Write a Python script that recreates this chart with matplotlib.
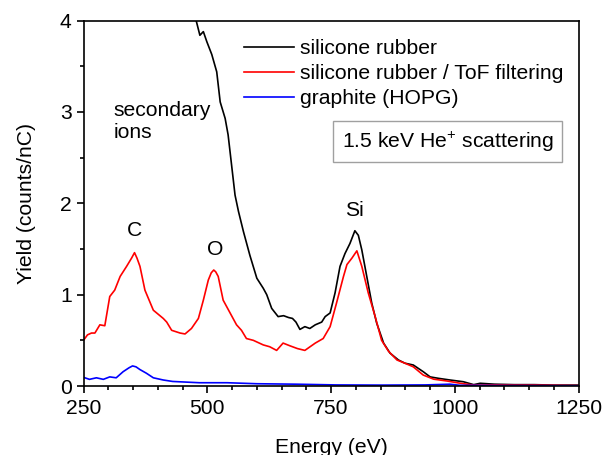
import matplotlib
matplotlib.use("Agg")
import matplotlib.pyplot as plt
from matplotlib.lines import Line2D

plt.rcParams['font.family'] = ['Liberation Sans', 'DejaVu Sans']

# silicone rubber (black)
e_black = [478, 485, 492, 499, 509, 519, 526, 536, 542, 549, 556, 563, 573, 586, 600,
           613, 620, 630, 643, 654, 664, 672, 679, 687, 697, 707, 718, 731, 738, 748,
           758, 768, 778, 788, 798, 805, 812, 822, 832, 842, 856, 869, 886, 899, 916,
           936, 950, 967, 990, 1017, 1038, 1051, 1080, 1120, 1160, 1200, 1250]
y_black = [3.99, 3.84, 3.88, 3.77, 3.63, 3.44, 3.11, 2.93, 2.75, 2.42, 2.09, 1.91, 1.69, 1.43, 1.18,
           1.07, 1.00, 0.85, 0.76, 0.77, 0.75, 0.74, 0.70, 0.62, 0.65, 0.63, 0.67, 0.70, 0.76, 0.80,
           1.02, 1.31, 1.45, 1.56, 1.70, 1.65, 1.49, 1.20, 0.91, 0.69, 0.47, 0.36, 0.285, 0.25, 0.23,
           0.157, 0.10, 0.084, 0.066, 0.047, 0.015, 0.03, 0.02, 0.015, 0.015, 0.01, 0.01]

# silicone rubber / ToF filtering (red)
e_red = [250, 258, 266, 273, 283, 293, 303, 313, 324, 337, 347, 353, 358, 364, 374, 391,
         411, 418, 428, 445, 455, 468, 482, 492, 502, 508, 513, 517, 522, 532, 546, 559,
         569, 579, 593, 613, 626, 640, 653, 667, 682, 697, 718, 734, 748, 761, 775, 782,
         792, 802, 812, 825, 839, 852, 866, 883, 899, 916, 936, 957, 984, 1011, 1038, 1080,
         1120, 1160, 1200, 1250]
y_red = [0.50, 0.56, 0.58, 0.58, 0.67, 0.66, 0.98, 1.05, 1.20, 1.31, 1.40, 1.46, 1.40, 1.31, 1.05, 0.83,
         0.74, 0.70, 0.61, 0.58, 0.57, 0.63, 0.74, 0.94, 1.16, 1.24, 1.27, 1.25, 1.20, 0.94, 0.80, 0.67,
         0.61, 0.52, 0.50, 0.45, 0.43, 0.39, 0.47, 0.44, 0.41, 0.39, 0.47, 0.52, 0.65, 0.91, 1.20, 1.33,
         1.40, 1.48, 1.31, 1.02, 0.76, 0.50, 0.38, 0.285, 0.25, 0.21, 0.12, 0.075, 0.055, 0.03, 0.01, 0.012,
         0.01, 0.01, 0.008, 0.005]

# graphite (HOPG) (blue)
e_blue = [250, 262, 276, 290, 303, 316, 330, 342, 349, 356, 364, 377, 391, 411, 430, 484,
          540, 600, 680, 760, 850, 940, 990, 1010, 1100, 1250]
y_blue = [0.095, 0.073, 0.09, 0.073, 0.10, 0.09, 0.157, 0.20, 0.22, 0.21, 0.18, 0.14, 0.09, 0.066,
          0.05, 0.036, 0.036, 0.025, 0.02, 0.012, 0.01, 0.012, 0.02, 0.008, 0.005, 0.003]

labels = ['silicone rubber', 'silicone rubber / ToF filtering', 'graphite (HOPG)']
colors = ['#000000', '#ff0000', '#0000ff']

fs = 15.2

fig = plt.figure(figsize=(6.03, 4.55), dpi=100)
ax = fig.add_axes([0.1385, 0.1516, 0.8212, 0.803])

ax.plot(e_black, y_black, color=colors[0], lw=1.2)
ax.plot(e_red, y_red, color=colors[1], lw=1.2)
ax.plot(e_blue, y_blue, color=colors[2], lw=1.2)

ax.set_xlim(250, 1250)
ax.set_ylim(0, 4)
ax.set_xticks([250, 500, 750, 1000, 1250])
ax.set_xticks(range(250, 1251, 50), minor=True)
ax.set_yticks([0, 1, 2, 3, 4])
ax.set_yticks([0.5, 1.5, 2.5, 3.5], minor=True)
ax.tick_params(axis='both', which='major', direction='out', length=5, width=1.2,
               labelsize=fs, top=False, right=False)
ax.tick_params(axis='x', which='major', pad=4)
ax.tick_params(axis='both', which='minor', direction='out', length=3, width=1.2,
               top=False, right=False)
for s in ax.spines.values():
    s.set_linewidth(1.2)

ax.set_xlabel('Energy (eV)', fontsize=fs, labelpad=15)
ax.set_ylabel('Yield (counts/nC)', fontsize=fs, labelpad=17.5)

handles = [Line2D([], [], color=c, lw=1.2) for c in colors]
ax.legend(handles, labels, loc='upper left', bbox_to_anchor=(0.294, 0.99),
          frameon=False, fontsize=fs, handlelength=2.36, handletextpad=0.28,
          labelspacing=0.28, borderaxespad=0.3)

ax.text(0.736, 0.669, '1.5 keV He$^{\\mathregular{+}}$ scattering', transform=ax.transAxes,
        ha='center', va='center', fontsize=fs,
        bbox=dict(boxstyle='square,pad=0.4', fc='white', ec='#a0a0a0', lw=1.0))

ax.text(310, 2.9, 'secondary\nions', fontsize=fs, ha='left', va='center', linespacing=1.2)
ax.text(353, 1.7, 'C', fontsize=fs, ha='center', va='center')
ax.text(516, 1.5, 'O', fontsize=fs, ha='center', va='center')
ax.text(797, 1.92, 'Si', fontsize=fs, ha='center', va='center')

fig.savefig('out.png', dpi=100)
